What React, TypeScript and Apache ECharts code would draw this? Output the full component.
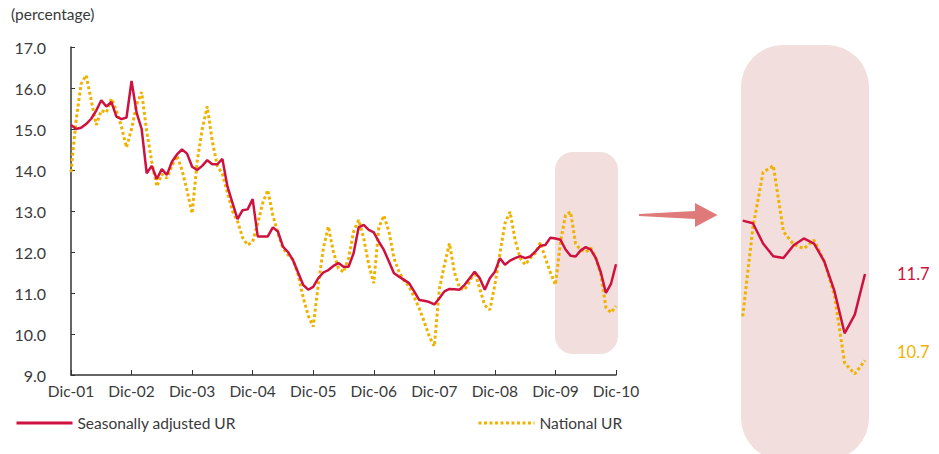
import React, { useEffect, useRef } from "react";
import * as echarts from "echarts";

const monthNames = ["Ene", "Feb", "Mar", "Abr", "May", "Jun", "Jul", "Ago", "Sep", "Oct", "Nov", "Dic"];
const startYear = 2001;
const nPoints = 109;
const categories: string[] = [];
for (let i = 0; i < nPoints; i++) {
  const m = (11 + i) % 12;
  const y = startYear + Math.floor((11 + i) / 12);
  categories.push(monthNames[m] + "-" + String(y % 100).padStart(2, "0"));
}

const seasonallyAdjusted = [
  15.1, 15.0, 15.03, 15.12, 15.25, 15.45, 15.7, 15.55, 15.66, 15.3, 15.24, 15.28,
  16.17, 15.4, 15.0, 13.92, 14.1, 13.78, 14.02, 13.88, 14.2, 14.38, 14.5, 14.4,
  14.08, 14.0, 14.1, 14.24, 14.14, 14.14, 14.27, 13.6, 13.2, 12.8, 13.02, 13.04,
  13.29, 12.38, 12.38, 12.38, 12.6, 12.5, 12.13, 12.0, 11.8, 11.5, 11.2, 11.08,
  11.15, 11.36, 11.5, 11.56, 11.66, 11.73, 11.64, 11.64, 11.97, 12.6, 12.66, 12.54,
  12.48, 12.25, 12.05, 11.77, 11.48, 11.4, 11.32, 11.24, 11.04, 10.83, 10.81, 10.78,
  10.72, 10.87, 11.04, 11.1, 11.09, 11.08, 11.2, 11.36, 11.52, 11.36, 11.08, 11.36,
  11.52, 11.85, 11.69, 11.79, 11.85, 11.9, 11.85, 11.89, 12.01, 12.15, 12.17, 12.35,
  12.33, 12.3, 12.06, 11.91, 11.89, 12.04, 12.12, 12.06, 11.85, 11.5, 11.0, 11.22,
  11.7,
];

const nationalUR = [
  13.95, 15.2, 16.1, 16.31, 15.7, 15.1, 15.45, 15.4, 15.74, 15.45, 15.05, 14.55,
  15.0, 15.6, 15.9, 14.95, 14.2, 13.6, 13.9, 13.8, 14.1, 14.35, 14.0, 13.5,
  12.94, 14.2, 15.0, 15.55, 14.7, 14.1, 13.9, 13.45, 13.0, 12.75, 12.35, 12.17,
  12.25, 12.7, 13.2, 13.51, 12.9, 12.46, 12.09, 11.93, 11.81, 11.45, 10.9, 10.45,
  10.18, 11.2, 12.09, 12.62, 12.0, 11.6, 11.51, 11.85, 12.5, 12.78, 12.34, 11.69,
  11.24, 12.6, 12.89, 12.5, 11.85, 11.52, 11.3, 11.16, 10.9, 10.63, 10.3, 9.94,
  9.7, 11.1, 11.69, 12.21, 11.5, 11.12, 11.08, 11.28, 11.52, 11.1, 10.7, 10.59,
  11.2, 11.97, 12.7, 12.98, 12.3, 11.85, 11.69, 11.85, 11.97, 12.23, 11.85, 11.5,
  11.2, 12.25, 12.9, 12.98, 12.2, 12.05, 12.0, 12.1, 11.85, 11.45, 10.65, 10.52,
  10.68,
];

const zoomStart = 96; // Dic-09
const lastRed = "11.7";
const lastYellow = "10.7";

const RED = "#cf1140";
const YELLOW = "#f0b200";
const PINK = "#f2dfdd";
const TEXT = "#3a3a3a";
const FONT = "Lato, 'Open Sans', sans-serif";

export default function App() {
  const ref = useRef<HTMLDivElement>(null);
  useEffect(() => {
    document.body.style.margin = "0";
    if (!ref.current) return;
    const chart = echarts.init(ref.current, undefined, { renderer: "svg" });
    const zoomCats = categories.slice(zoomStart);
    chart.setOption({
      animation: false,
      backgroundColor: "#ffffff",
      textStyle: { fontFamily: FONT },
      graphic: [
        { type: "rect", z: -10, shape: { x: 555, y: 152, width: 63, height: 202, r: 18 }, style: { fill: PINK } },
        { type: "rect", z: -10, shape: { x: 741, y: 45, width: 128, height: 415, r: 42 }, style: { fill: PINK } },
        {
          type: "polygon",
          shape: { points: [[639, 214], [695, 211], [695, 203], [717.5, 215], [695, 227], [695, 219], [639, 216]] },
          style: { fill: "#e07a7a" },
        },
        { type: "text", x: 11, y: 6, style: { text: "(percentage)", fill: TEXT, font: `15.5px ${FONT}` } },
        { type: "text", x: 897, y: 265, style: { text: lastRed, fill: RED, font: `16.5px ${FONT}` } },
        { type: "text", x: 897, y: 343, style: { text: lastYellow, fill: YELLOW, font: `16.5px ${FONT}` } },
      ],
      legend: [
        {
          left: 15, top: 415, padding: 0, itemWidth: 56, itemHeight: 14, itemGap: 10,
          itemStyle: { opacity: 0 },
          lineStyle: { width: 3 },
          data: ["Seasonally adjusted UR"],
          textStyle: { color: TEXT, fontSize: 15.5, fontFamily: FONT },
        },
        {
          left: 477, top: 415, padding: 0, itemWidth: 56, itemHeight: 14, itemGap: 6,
          itemStyle: { opacity: 0 },
          lineStyle: { width: 3 },
          data: ["National UR"],
          textStyle: { color: TEXT, fontSize: 15.5, fontFamily: FONT },
        },
      ],
      grid: [
        { left: 71, top: 47, width: 545, height: 328, containLabel: false },
        { left: 742.7, top: 79.2, width: 122.3, height: 338.8, containLabel: false },
      ],
      xAxis: [
        {
          type: "category", gridIndex: 0, data: categories, boundaryGap: false,
          axisLine: { lineStyle: { color: "#333", width: 1.5 } },
          axisTick: { inside: true, length: 5, interval: 11, lineStyle: { color: "#333" } },
          axisLabel: { interval: 11, color: TEXT, fontSize: 15.5, margin: 8, fontFamily: FONT },
        },
        {
          type: "category", gridIndex: 1, data: zoomCats, boundaryGap: false, show: false,
        },
      ],
      yAxis: [
        {
          type: "value", gridIndex: 0, min: 9, max: 17, interval: 1,
          splitLine: { show: false },
          axisLine: { show: true, lineStyle: { color: "#333", width: 1.5 } },
          axisTick: { show: true, inside: true, length: 4, lineStyle: { color: "#333" } },
          axisLabel: { color: TEXT, fontSize: 16, margin: 25, fontFamily: FONT, formatter: (v: number) => v.toFixed(1) },
        },
        {
          type: "value", gridIndex: 1, min: 10, max: 14, show: false, splitLine: { show: false },
        },
      ],
      series: [
        {
          name: "Seasonally adjusted UR", type: "line", xAxisIndex: 0, yAxisIndex: 0,
          data: seasonallyAdjusted, symbol: "none", z: 3,
          lineStyle: { color: RED, width: 2.5 }, itemStyle: { color: RED },
        },
        {
          name: "National UR", type: "line", xAxisIndex: 0, yAxisIndex: 0,
          data: nationalUR, symbol: "none", z: 2,
          lineStyle: { color: YELLOW, width: 3, type: [3, 2.5] }, itemStyle: { color: YELLOW },
        },
        {
          name: "Seasonally adjusted UR", type: "line", xAxisIndex: 1, yAxisIndex: 1,
          data: seasonallyAdjusted.slice(zoomStart), symbol: "none", z: 3,
          lineStyle: { color: RED, width: 2.5 },
        },
        {
          name: "National UR", type: "line", xAxisIndex: 1, yAxisIndex: 1,
          data: nationalUR.slice(zoomStart), symbol: "none", z: 2,
          lineStyle: { color: YELLOW, width: 3, type: [3, 2.5] },
        },
      ],
    });
    return () => chart.dispose();
  }, []);
  return <div ref={ref} style={{ width: 939, height: 454 }} />;
}
